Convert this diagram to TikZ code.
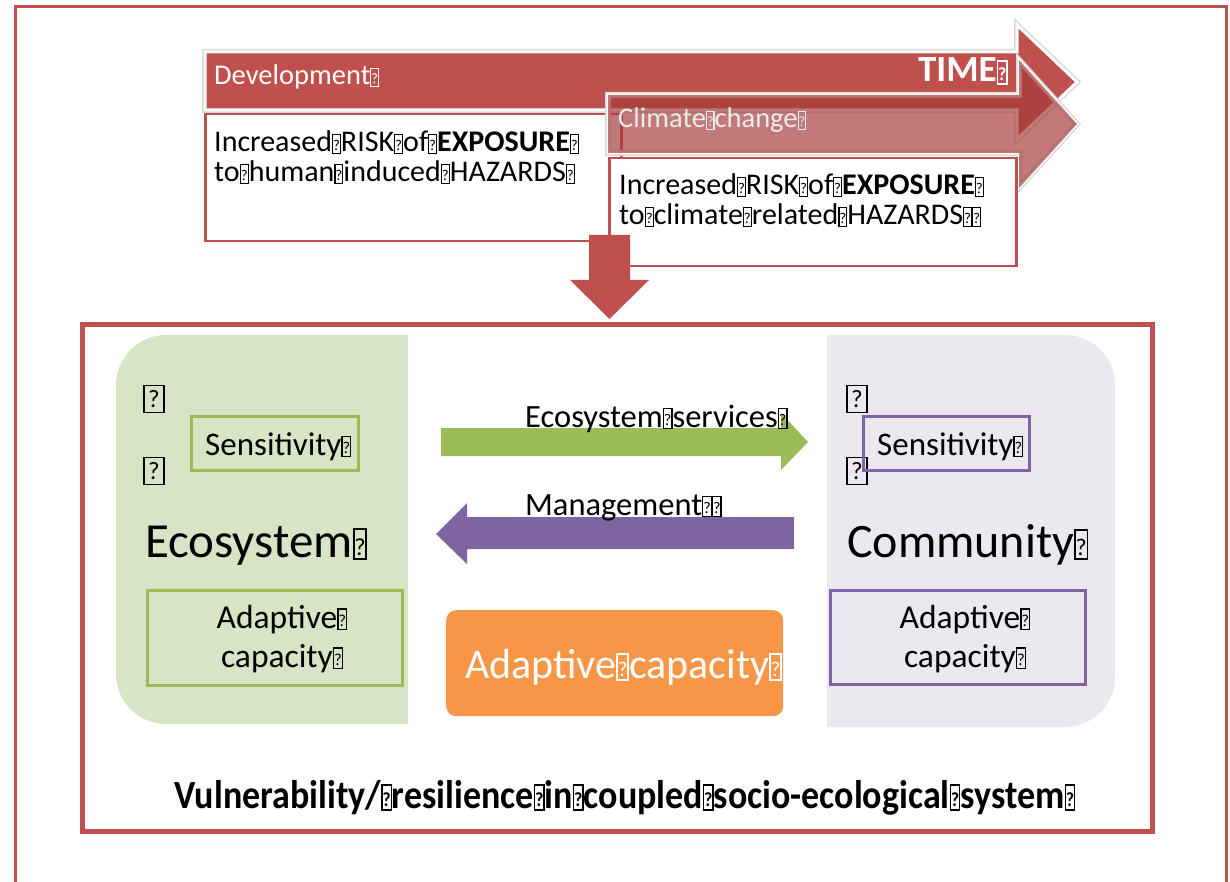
\documentclass[tikz,border=0pt]{standalone}
\usepackage{fontspec}
\setmainfont{Carlito}
\usepackage{graphicx}
\newcommand\fs[1]{\fontsize{#1}{#1}\selectfont}
% placeholder glyph: a small framed question mark standing in a word gap
\newcommand\nd{\makebox[0.3em][l]{\raisebox{-0.03em}{\setlength\fboxsep{0pt}\setlength\fboxrule{0.04em}\fbox{\makebox[0.22em]{\rule{0pt}{0.58em}\raisebox{0.07em}{\scalebox{0.5}{?}}}}}}}
\definecolor{accred}{HTML}{C0504D}
\definecolor{deepred}{HTML}{A33A3A}
\definecolor{accgreen}{HTML}{9BBB59}
\definecolor{accpurple}{HTML}{8064A2}
\definecolor{accorange}{HTML}{F79646}
\definecolor{ecofill}{HTML}{D8E4C6}
\definecolor{comfill}{HTML}{EBE9EF}
\begin{document}
\begin{tikzpicture}[x=1pt,y=-1pt,
  tbox/.style={draw=accred, line width=2.5, fill=white, anchor=north west, inner sep=0},
  ecobox/.style={draw=accgreen, line width=2.5, anchor=north west, inner sep=0},
  combox/.style={draw=accpurple, line width=2.5, anchor=north west, inner sep=0},
  qbox/.style={draw, line width=1.5, minimum width=20, minimum height=27, inner sep=0, font=\fs{25}},
  bodytxt/.style={anchor=base west, inner sep=0, font=\fs{30}},
  headtxt/.style={anchor=base west, inner sep=0, font=\fs{28.5}, text=white},
  midtxt/.style={anchor=base, inner sep=0, font=\fs{33.5}},
  bigtxt/.style={anchor=base west, inner sep=0, font=\fs{48}},
]
\useasboundingbox (0,0) rectangle (1230,882);

% page frame (open at the bottom)
\draw[accred, line width=3] (15,882) -- (15,6.5) -- (1226,6.5) -- (1226,882);

% ---- time arrows ----
\draw[black!15, line width=6, line join=miter]
  (205,52) -- (1017,52) -- (1017,25) -- (1077,82) -- (1017,139) -- (1017,110) -- (205,110) -- cycle;
\filldraw[fill=accred, draw=white, line width=3, line join=miter]
  (205,52) -- (1017,52) -- (1017,25) -- (1077,82) -- (1017,139) -- (1017,110) -- (205,110) -- cycle;
\node[headtxt] (dev) at (214,85) {Development\nd};
\node[anchor=base east, inner sep=0, font=\fs{37}\bfseries, text=white] (time) at (1008,82) {TIME\nd};

\node[tbox, minimum width=416, minimum height=127] (devbox) at (204,113) {};
\node[bodytxt] (dev1) at (214,152) {Increased\nd RISK\nd of\nd \textbf{EXPOSURE}\nd};
\node[bodytxt] (dev2) at (214,182) {to\nd human\nd induced\nd HAZARDS\nd};

\draw[black!15, line width=6, line join=miter]
  (608,95) -- (1019,95) -- (1019,60) -- (1077,124) -- (1019,188) -- (1019,153) -- (608,153) -- cycle;
\draw[white, line width=3, line join=miter]
  (608,95) -- (1019,95) -- (1019,60) -- (1077,124) -- (1019,188) -- (1019,153) -- (608,153) -- cycle;
\fill[deepred, opacity=0.68]
  (608,95) -- (1019,95) -- (1019,60) -- (1077,124) -- (1019,188) -- (1019,153) -- (608,153) -- cycle;
\node[headtxt, text=white!92!black] (clim) at (618,128) {Climate\nd change\nd};

\node[tbox, minimum width=407, minimum height=108] (climbox) at (608,157) {};
\node[bodytxt] (clim1) at (619,195) {Increased\nd RISK\nd of\nd \textbf{EXPOSURE}\nd};
\node[bodytxt] (clim2) at (619,225) {to\nd climate\nd related\nd HAZARDS\nd\nd};

% ---- coupled system frame ----
\node[draw=accred, line width=4.5, anchor=north west, inner sep=0,
      minimum width=1070, minimum height=507] (system) at (80,322) {};

% downward arrow into the system
\fill[accred] (589,235) -- (630,235) -- (630,280) -- (649,280) -- (609.5,319)
  -- (570,280) -- (589,280) -- cycle;

% ecosystem panel: rounded on the left side only
\begin{scope}
  \clip (0,0) rectangle (408,882);
  \fill[ecofill, rounded corners=50] (116,335) rectangle (470,724);
\end{scope}
% community panel: rounded on the right side only
\begin{scope}
  \clip (827,0) rectangle (1230,882);
  \fill[comfill, rounded corners=50] (765,335) rectangle (1115,727);
\end{scope}

% ecosystem side
\node[qbox] (eq1) at (154,399) {?};
\node[qbox] (eq2) at (154,471) {?};
\node[ecobox, minimum width=167, minimum height=54] (esens) at (190,415) {};
\node[anchor=base west, inner sep=0, font=\fs{33}] (esenst) at (205,455) {Sensitivity\nd};
\node[bigtxt, font=\fs{49}] (eco) at (145,557) {Ecosystem\nd};
\node[ecobox, minimum width=255, minimum height=95] (eadap) at (146,589) {};
\node[midtxt] (eadap1) at (282,628) {Adaptive\nd};
\node[midtxt] (eadap2) at (282,667) {capacity\nd};

% community side
\node[qbox] (cq1) at (857,399) {?};
\node[qbox] (cq2) at (857,471) {?};
\node[combox, minimum width=166, minimum height=54] (csens) at (862,415) {};
\node[anchor=base west, inner sep=0, font=\fs{33}] (csenst) at (877,455) {Sensitivity\nd};
\node[bigtxt] (com) at (847,557) {Community\nd};
\node[combox, minimum width=255, minimum height=94] (cadap) at (829,589) {};
\node[midtxt] (cadap1) at (965,628) {Adaptive\nd};
\node[midtxt] (cadap2) at (965,667) {capacity\nd};

% exchanges between the two subsystems
\fill[accgreen] (441,428) -- (781,428) -- (781,413) -- (808,442) -- (781,470)
  -- (781,456) -- (441,456) -- cycle;
\node[anchor=base west, inner sep=0, font=\fs{32.5}] (serv) at (525,427) {Ecosystem\nd services\nd};
\fill[accpurple] (794,517) -- (467,517) -- (467,503) -- (436,534) -- (467,564)
  -- (467,549) -- (794,549) -- cycle;
\node[anchor=base west, inner sep=0, font=\fs{32.5}] (mgmt) at (525,515) {Management\nd\nd};

% shared adaptive capacity
\node[fill=accorange, rounded corners=10, anchor=north west, inner sep=0,
      minimum width=337, minimum height=106] (shared) at (446,610) {};
\node[anchor=base west, inner sep=0, font=\fs{42}, text=white] (sharedt) at (465,678) {Adaptive\nd capacity\nd};

% caption
\node[anchor=base, inner sep=0, font=\fs{40}\bfseries] (caption) at (625,808)
  {\scalebox{0.9}[1]{Vulnerability/\nd resilience\nd in\nd coupled\nd socio-ecological\nd system\nd}};
\end{tikzpicture}
\end{document}
